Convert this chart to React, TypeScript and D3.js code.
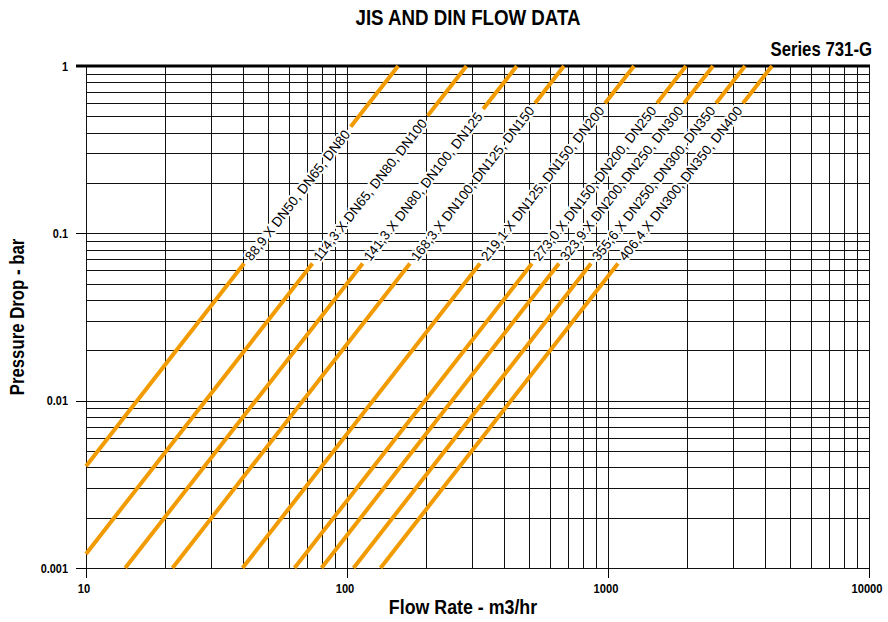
import React, { useEffect, useRef } from "react";
import * as d3 from "d3";

// Pipe outer diameters and matching DIN sizes (one line each)
const pipeOD = ["88,9", "114,3", "141,3", "168,3", "219,1", "273,0", "323,9", "355,6", "406,4"];
const dnSizes = [
  "DN50, DN65, DN80",
  "DN65, DN80, DN100",
  "DN80, DN100, DN125",
  "DN100, DN125, DN150",
  "DN125, DN150, DN200",
  "DN150, DN200, DN250",
  "DN200, DN250, DN300",
  "DN250, DN300, DN350",
  "DN300, DN350, DN400",
];
// Flow rate (m3/hr) at which each line reaches 1 bar pressure drop (ΔP ∝ Q²)
const flowAt1Bar = [157, 287, 447, 678, 1258, 1990, 2525, 3350, 4250];
const xTicks = [10, 100, 1000, 10000];
const xTickLabels = ["10", "100", "1000", "10000"];
const yTicks = [0.001, 0.01, 0.1, 1];
const yTickLabels = ["0.001", "0.01", "0.1", "1"];
const labelStartDrop = 0.066; // pressure drop where the label begins on each line

const FONT = "'Liberation Sans', Arial, Helvetica, sans-serif";
const ORANGE = "#F29B00";

export default function App() {
  const ref = useRef<SVGSVGElement>(null);

  useEffect(() => {
    const svg = d3.select(ref.current);
    svg.selectAll("*").remove();

    const x = d3.scaleLog().domain([10, 10000]).range([86, 869]);
    const y = d3.scaleLog().domain([0.001, 1]).range([568, 66]);

    const [x0, x1] = x.range();
    const [y0, y1] = y.range();

    // Grid
    const grid = svg.append("g").attr("stroke", "#111").attr("stroke-width", 1).attr("shape-rendering", "crispEdges");
    const xVals: number[] = [];
    for (let d = 10; d < 10000; d *= 10) for (let k = 1; k < 10; k++) xVals.push(d * k);
    xVals.push(10000);
    const yVals: number[] = [];
    for (let d = 0.001; d < 0.999; d *= 10) for (let k = 1; k < 10; k++) yVals.push(d * k);
    yVals.push(1);

    grid.selectAll("line.v").data(xVals).join("line")
      .attr("x1", (d) => Math.round(x(d)) + 0.5).attr("x2", (d) => Math.round(x(d)) + 0.5)
      .attr("y1", y1).attr("y2", y0);
    grid.selectAll("line.h").data(yVals).join("line")
      .attr("y1", (d) => Math.round(y(d)) + 0.5).attr("y2", (d) => Math.round(y(d)) + 0.5)
      .attr("x1", x0).attr("x2", x1);

    // Axis ticks
    const ax = svg.append("g").attr("stroke", "#000").attr("stroke-width", 1).attr("shape-rendering", "crispEdges");
    ax.selectAll("line.xt").data(xTicks).join("line")
      .attr("x1", (d) => Math.round(x(d)) + 0.5).attr("x2", (d) => Math.round(x(d)) + 0.5)
      .attr("y1", y0).attr("y2", y0 + 10);
    ax.selectAll("line.yt").data(yTicks).join("line")
      .attr("y1", (d) => Math.round(y(d)) + 0.5).attr("y2", (d) => Math.round(y(d)) + 0.5)
      .attr("x1", x0 - 10).attr("x2", x0);
    // Thick top border
    svg.append("line").attr("x1", x0 - 10).attr("x2", x1 + 1).attr("y1", y1).attr("y2", y1)
      .attr("stroke", "#000").attr("stroke-width", 3);

    // Tick labels
    svg.append("g").selectAll("text").data(xTicks).join("text")
      .attr("transform", (d) => `translate(${x(d) - 2},593) scale(0.86,1)`)
      .attr("text-anchor", "middle").attr("font-family", FONT).attr("font-weight", "bold")
      .attr("font-size", 13).attr("fill", "#000")
      .text((d, i) => xTickLabels[i]);
    svg.append("g").selectAll("text").data(yTicks).join("text")
      .attr("transform", (d) => `translate(68,${y(d) + 4.8}) scale(0.84,1)`)
      .attr("text-anchor", "end").attr("font-family", FONT).attr("font-weight", "bold")
      .attr("font-size", 13).attr("fill", "#000")
      .text((d, i) => yTickLabels[i]);

    // Titles
    svg.append("text").attr("transform", "translate(468,25) scale(0.87,1)")
      .attr("text-anchor", "middle").attr("font-family", FONT).attr("font-weight", "bold")
      .attr("font-size", 21.5).text("JIS AND DIN FLOW DATA");
    svg.append("text").attr("transform", "translate(872,56) scale(0.86,1)")
      .attr("text-anchor", "end").attr("font-family", FONT).attr("font-weight", "bold")
      .attr("font-size", 19.5).text("Series 731-G");
    svg.append("text").attr("transform", "translate(463,614) scale(0.89,1)")
      .attr("text-anchor", "middle").attr("font-family", FONT).attr("font-weight", "bold")
      .attr("font-size", 20).text("Flow Rate - m3/hr");
    svg.append("text").attr("transform", `translate(24,${(y0 + y1) / 2}) rotate(-90) scale(0.86,1)`)
      .attr("text-anchor", "middle").attr("font-family", FONT).attr("font-weight", "bold")
      .attr("font-size", 19.5).text("Pressure Drop - bar");

    // Flow lines with labels
    const linesG = svg.append("g");
    const textG = svg.append("g");
    const pad = 6;
    flowAt1Bar.forEach((q1, i) => {
      const dropAt = (q: number) => (q / q1) ** 2;
      const flowAt = (dp: number) => q1 * Math.sqrt(dp);
      const dBottom = Math.max(0.001, dropAt(10));
      const pA: [number, number] = [x(flowAt(dBottom)), y(dBottom)];
      const pS: [number, number] = [x(flowAt(labelStartDrop)), y(labelStartDrop)];
      const pT: [number, number] = [x(q1), y(1)];
      const dx = pT[0] - pS[0], dy = pT[1] - pS[1];
      const len = Math.hypot(dx, dy);
      const u = [dx / len, dy / len];
      const angle = (Math.atan2(u[1], u[0]) * 180) / Math.PI;

      const label = `${pipeOD[i]} X ${dnSizes[i]}`;
      const t = textG.append("text")
        .attr("transform", `translate(${pS[0] + u[0] * pad},${pS[1] + u[1] * pad}) rotate(${angle})`)
        .attr("dy", "0.36em")
        .attr("font-family", FONT).attr("font-size", 13.5).attr("fill", "#000")
        .attr("stroke", "#fff").attr("stroke-width", 4).attr("stroke-linejoin", "round")
        .attr("paint-order", "stroke")
        .text(label);
      const tl = (t.node() as SVGTextElement).getComputedTextLength();
      const gap = tl + 2 * pad;
      const pE: [number, number] = [pS[0] + u[0] * gap, pS[1] + u[1] * gap];

      const line = d3.line();
      linesG.append("path").attr("d", line([pA, pS]) as string)
        .attr("stroke", ORANGE).attr("stroke-width", 4).attr("fill", "none");
      linesG.append("path").attr("d", line([pE, pT]) as string)
        .attr("stroke", ORANGE).attr("stroke-width", 4).attr("fill", "none");
    });
  }, []);

  return (
    <svg
      ref={ref}
      width={888}
      height={622}
      style={{ position: "absolute", left: 0, top: 0, background: "#fff" }}
    />
  );
}
